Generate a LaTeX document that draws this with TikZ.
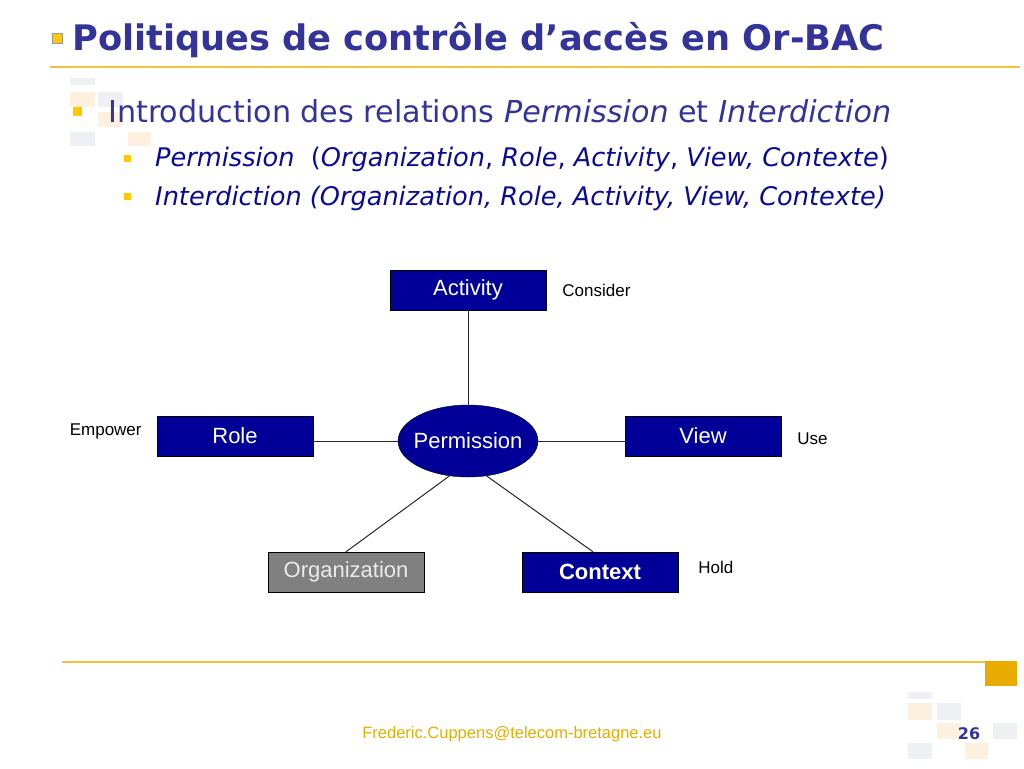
\documentclass[tikz,border=0pt]{standalone}
\usepackage{fontspec}
\setmainfont{Liberation Sans}
\newfontfamily\slidefont{DejaVu Sans}
\usetikzlibrary{positioning,shapes.geometric,calc}
\definecolor{boxnavy}{RGB}{0,0,153}
\definecolor{titleblue}{RGB}{51,51,153}
\definecolor{itemblue}{RGB}{10,10,150}
\definecolor{bulletgold}{RGB}{255,200,0}
\definecolor{rulegold}{RGB}{248,192,64}
\definecolor{cornergold}{RGB}{232,172,0}
\definecolor{fadegray}{RGB}{238,240,244}
\definecolor{fadeorange}{RGB}{253,240,222}
\tikzset{
  box/.style  = {rectangle, draw, fill = boxnavy, text = white,
                 minimum width = 156pt, minimum height = 40pt,
                 inner sep = 0pt, font = \fontsize{22}{22}\selectfont},
  orgbox/.style = {box, fill = black!50, text = black!8},
  perm/.style = {ellipse, draw, fill = boxnavy, text = white,
                 minimum width = 140pt, minimum height = 72pt,
                 inner xsep = -5pt, inner ysep = 0pt,
                 font = \fontsize{22}{22}\selectfont},
  rel/.style  = {inner sep = 0pt, font = \fontsize{17}{17}\selectfont},
  link/.style = {draw = black!85, line width = 1pt},
  txt/.style  = {anchor = base west, inner sep = 0pt},
  deco/.style = {fill = fadegray},
  decoo/.style = {fill = fadeorange}
}
\begin{document}
\begin{tikzpicture}[x=1pt,y=-1pt]
  \useasboundingbox (0,0) rectangle (1024,768);
  % faded squares
  \fill[deco]  (70,78) rectangle (95,85);
  \fill[decoo] (70,92) rectangle (95,107);
  \fill[deco]  (98,92) rectangle (123,107);
  \fill[decoo] (98,112) rectangle (123,127);
  \fill[deco]  (70,132) rectangle (95,146);
  \fill[decoo] (128,132) rectangle (151,146);
  \fill[deco]  (908,692) rectangle (932,699);
  \fill[decoo] (908,703) rectangle (932,720);
  \fill[deco]  (937,703) rectangle (961,720);
  \fill[decoo] (937,723) rectangle (961,739);
  \fill[deco]  (993,723) rectangle (1017,739);
  \fill[deco]  (908,743) rectangle (932,759);
  \fill[decoo] (965,743) rectangle (988,759);
  % title
  \filldraw[fill=bulletgold, draw=black!40] (52,33) rectangle (62,43);
  \node[txt, text=titleblue, font=\slidefont\bfseries\fontsize{35.2}{35}\selectfont]
    (title) at (72,50) {Politiques de contrôle d’accès en Or-BAC};
  \draw[rulegold, line width=2pt] (50,67) -- (1020,67);
  % bullets
  \fill[bulletgold] (73,107) rectangle (82,116);
  \node[txt, text=titleblue, font=\slidefont\fontsize{30.2}{30}\selectfont]
    (intro) at (108,122) {Introduction des relations \textit{Permission} et \textit{Interdiction}};
  \fill[bulletgold] (124,155) rectangle (131,162);
  \node[txt, text=itemblue, font=\slidefont\fontsize{25.6}{25}\selectfont]
    (permrel) at (155,166) {\textit{Permission}\ \ (\textit{Organization}, \textit{Role}, \textit{Activity}, \textit{View, Contexte})};
  \fill[bulletgold] (124,193) rectangle (131,200);
  \node[txt, text=itemblue, font=\slidefont\fontsize{25.6}{25}\selectfont]
    (interrel) at (155,205) {\textit{Interdiction (Organization, Role, Activity, View, Contexte)}};
  % model
  \node[perm] (p) at (468,441) {Permission};
  \node[box] (act) at (468,290) {Activity};
  \node[box] (role) at (235,436) {Role};
  \node[box] (view) at (703,436) {View};
  \node[orgbox] (org) at (346,572) {Organization};
  \node[box, font=\bfseries\fontsize{22}{22}\selectfont] (ctx) at (600,572) {Context};
  \node[rel, right=16pt of act] (consider) {Consider};
  \node[rel, left=15pt of role, yshift=5pt] (empower) {Empower};
  \node[rel, right=16pt of view, yshift=-3pt] (use) {Use};
  \node[rel, right=20pt of ctx, yshift=5pt] (hold) {Hold};
  \draw[link] (act) -- (p);
  \draw[link] (p.west) -- (p.west -| role.east);
  \draw[link] (p.east) -- (p.east -| view.west);
  \draw[link] (p.-118) -- (org.north);
  \draw[link] (p.-62) -- ($(ctx.north)+(-7,0)$);
  % footer
  \draw[rulegold, line width=2pt] (62,662) -- (985,662);
  \fill[cornergold] (985,661) rectangle (1017,686);
  \node[inner sep=0pt, anchor=base, text=cornergold, font=\fontsize{16.5}{16}\selectfont]
    (mail) at (512,738) {Frederic.Cuppens@telecom-bretagne.eu};
  \node[inner sep=0pt, anchor=base, text=titleblue, font=\slidefont\bfseries\fontsize{16}{16}\selectfont]
    (pagenum) at (969,739) {26};
\end{tikzpicture}
\end{document}
